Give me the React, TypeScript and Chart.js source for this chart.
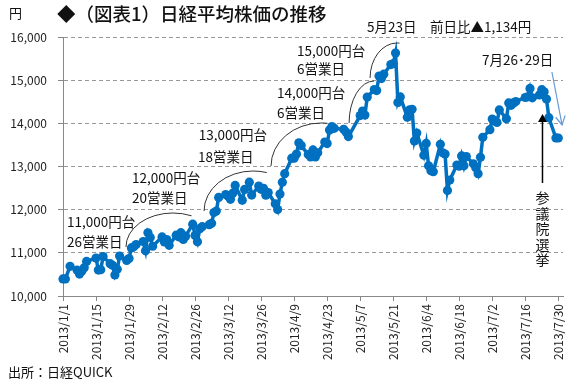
import { useEffect, useRef } from "react";
import { Chart, registerables } from "chart.js";

Chart.register(...registerables);

// ---- data ----
const dates = [
  "1/1", "1/2", "1/4", "1/7", "1/8", "1/9", "1/10", "1/11", "1/15", "1/16", "1/17", "1/18",
  "1/21", "1/22", "1/23", "1/24", "1/25", "1/28", "1/29", "1/30", "1/31",
  "2/1", "2/4", "2/5", "2/6", "2/7", "2/8", "2/12", "2/13", "2/14", "2/15", "2/18", "2/19",
  "2/20", "2/21", "2/22", "2/25", "2/26", "2/27", "2/28",
  "3/1", "3/4", "3/5", "3/6", "3/7", "3/8", "3/11", "3/12", "3/13", "3/14", "3/15", "3/18",
  "3/19", "3/21", "3/22", "3/25", "3/26", "3/27", "3/28", "3/29",
  "4/1", "4/2", "4/3", "4/4", "4/5", "4/8", "4/9", "4/10", "4/11", "4/12", "4/15", "4/16",
  "4/17", "4/18", "4/19", "4/22", "4/23", "4/24", "4/25", "4/26", "4/30",
  "5/1", "5/2", "5/7", "5/8", "5/9", "5/10", "5/13", "5/14", "5/15", "5/16", "5/17", "5/20",
  "5/21", "5/22", "5/23", "5/24", "5/27", "5/28", "5/29", "5/30", "5/31",
  "6/3", "6/4", "6/5", "6/6", "6/7", "6/10", "6/11", "6/12", "6/13", "6/14", "6/17", "6/18",
  "6/19", "6/20", "6/21", "6/24", "6/25", "6/26", "6/27", "6/28",
  "7/1", "7/2", "7/3", "7/4", "7/5", "7/8", "7/9", "7/10", "7/11", "7/12", "7/16", "7/17",
  "7/18", "7/19", "7/22", "7/23", "7/24", "7/25", "7/26", "7/29", "7/30",
];

const closes = [
  10395, 10395, 10688, 10599, 10508, 10579, 10653, 10802, 10879, 10600, 10610, 10913,
  10748, 10710, 10487, 10621, 10927, 10824, 10867, 11114, 11139,
  11191, 11260, 11047, 11464, 11357, 11153, 11369, 11251, 11307, 11174, 11408, 11372,
  11468, 11309, 11386, 11663, 11399, 11254, 11559,
  11606, 11652, 11683, 11932, 11968, 12284, 12349, 12315, 12240, 12381, 12561, 12221,
  12468, 12636, 12339, 12546, 12472, 12494, 12336, 12398,
  12135, 12003, 12362, 12635, 12834, 13193, 13192, 13288, 13549, 13485, 13276, 13221,
  13383, 13220, 13316, 13568, 13530, 13843, 13926, 13884, 13861,
  13799, 13694, 14180, 14286, 14191, 14608, 14782, 14758, 15096, 15037, 15138, 15361,
  15381, 15627, 14484, 14612, 14143, 14312, 14326, 13589, 13775,
  13262, 13534, 13015, 12904, 12878, 13514, 13318, 13289, 12445, 12687, 13033, 13007,
  13245, 13015, 13230, 13063, 12969, 12834, 13214, 13677,
  13853, 14099, 14055, 14019, 14310, 14109, 14473, 14417, 14473, 14506, 14599, 14615,
  14809, 14590, 14658, 14779, 14731, 14563, 14130, 13661, 13660,
];

const xTickLabels = [
  "2013/1/1", "2013/1/15", "2013/1/29", "2013/2/12", "2013/2/26", "2013/3/12", "2013/3/26",
  "2013/4/9", "2013/4/23", "2013/5/7", "2013/5/21", "2013/6/4", "2013/6/18", "2013/7/2",
  "2013/7/16", "2013/7/30",
];

const yMin = 10000;
const yMax = 16000;
const yStep = 1000;
const xStepDays = 14;
const xMaxDays = 212;

const TITLE = "◆（図表1）日経平均株価の推移";
const UNIT = "円";
const SOURCE = "出所：日経QUICK";

// annotation texts (anchored in data space: day index, yen)
const noteTexts = [
  { text: "11,000円台", d: 1.7, v: 11715 },
  { text: "26営業日", d: 1.7, v: 11251 },
  { text: "12,000円台", d: 29.3, v: 12734 },
  { text: "20営業日", d: 29.3, v: 12271 },
  { text: "13,000円台", d: 57.6, v: 13730 },
  { text: "18営業日", d: 57.2, v: 13220 },
  { text: "14,000円台", d: 90.7, v: 14703 },
  { text: "6営業日", d: 90.7, v: 14240 },
  { text: "15,000円台", d: 99.2, v: 15676 },
  { text: "6営業日", d: 99.2, v: 15259 },
  { text: "5月23日　前日比▲1,134円", d: 128.9, v: 16232 },
  { text: "7月26･29日", d: 177.7, v: 15467 },
];
const verticalNote = { text: "参議院選挙", d: 203.3, v: 12271 };

// arcs: start (left end) and apex (top), end angle in units of PI
const arcs = [
  { d0: 26.7, v0: 11136, d1: 46.6, v1: 11923, end: 1.63 },
  { d0: 59.8, v0: 11969, d1: 80.6, v1: 12896, end: 1.59 },
  { d0: 88.2, v0: 13012, d1: 109.5, v1: 14008, end: 1.54 },
  { d0: 121.3, v0: 14008, d1: 131.9, v1: 14981, end: 1.5 },
  { d0: 130.2, v0: 15050, d1: 141.6, v1: 15861, end: 1.53 },
];

const blackArrow = { d: 203.3, vFrom: 12618, vTo: 14216 };
const blueArrow = { d0: 207.3, v0: 15189, d1: 211.6, v1: 13962 };

const FONT = '"Noto Sans CJK JP", "Noto Sans", sans-serif';
const LINE_BLUE = "#0070C0";

const dayOf = (md: string) => {
  const [m, d] = md.split("/").map(Number);
  return (Date.UTC(2013, m - 1, d) - Date.UTC(2013, 0, 1)) / 86400000;
};

const notesPlugin = {
  id: "notes",
  afterDraw(chart: any) {
    const { ctx } = chart;
    const xs = chart.scales.x;
    const ys = chart.scales.y;
    const X = (d: number) => xs.getPixelForValue(d);
    const Y = (v: number) => ys.getPixelForValue(v);
    ctx.save();
    ctx.fillStyle = "#111";
    ctx.textBaseline = "middle";
    ctx.textAlign = "left";

    ctx.font = `500 18.5px ${FONT}`;
    ctx.fillText(TITLE, 57, 14);
    ctx.font = `13px ${FONT}`;
    ctx.fillText(UNIT, 9, 13);
    ctx.fillText(SOURCE, 8, 372);

    ctx.font = `13.5px ${FONT}`;
    for (const n of noteTexts) ctx.fillText(n.text, X(n.d), Y(n.v));

    // vertical text
    ctx.font = `14px ${FONT}`;
    ctx.textAlign = "center";
    const chars = Array.from(verticalNote.text);
    chars.forEach((c, i) => ctx.fillText(c, X(verticalNote.d), Y(verticalNote.v) + i * 15.5));

    // arcs
    ctx.strokeStyle = "#333";
    ctx.lineWidth = 1;
    for (const a of arcs) {
      const sx = X(a.d0), sy = Y(a.v0), ax = X(a.d1), ay = Y(a.v1);
      ctx.beginPath();
      ctx.ellipse(ax, sy, ax - sx, sy - ay, 0, Math.PI, a.end * Math.PI);
      ctx.stroke();
    }

    // black arrow
    {
      const x = X(blackArrow.d);
      const y0 = Y(blackArrow.vFrom);
      const tip = Y(blackArrow.vTo);
      ctx.strokeStyle = "#000";
      ctx.fillStyle = "#000";
      ctx.lineWidth = 1.5;
      ctx.beginPath();
      ctx.moveTo(x, y0);
      ctx.lineTo(x, tip + 7);
      ctx.stroke();
      ctx.beginPath();
      ctx.moveTo(x, tip);
      ctx.lineTo(x - 4.5, tip + 8);
      ctx.lineTo(x + 4.5, tip + 8);
      ctx.closePath();
      ctx.fill();
    }

    // blue arrow
    {
      const x0 = X(blueArrow.d0), y0 = Y(blueArrow.v0);
      const x1 = X(blueArrow.d1), y1 = Y(blueArrow.v1);
      ctx.strokeStyle = "#6a9ad8";
      ctx.lineWidth = 1.2;
      ctx.beginPath();
      ctx.moveTo(x0, y0);
      ctx.lineTo(x1, y1);
      ctx.stroke();
      const ang = Math.atan2(y1 - y0, x1 - x0);
      const L = 10;
      ctx.beginPath();
      ctx.moveTo(x1 - L * Math.cos(ang - 0.5), y1 - L * Math.sin(ang - 0.5));
      ctx.lineTo(x1, y1);
      ctx.lineTo(x1 - L * Math.cos(ang + 0.5), y1 - L * Math.sin(ang + 0.5));
      ctx.stroke();
    }
    ctx.restore();
  },
};

export default function App() {
  const ref = useRef<HTMLCanvasElement | null>(null);

  useEffect(() => {
    if (!ref.current) return;
    const points = dates.map((d, i) => ({ x: dayOf(d), y: closes[i] }));
    const chart = new Chart(ref.current, {
      type: "line",
      data: {
        datasets: [
          {
            data: points,
            borderColor: LINE_BLUE,
            backgroundColor: LINE_BLUE,
            borderWidth: 3.5,
            pointRadius: 4.6,
            pointBorderWidth: 0,
            pointBackgroundColor: LINE_BLUE,
            tension: 0,
            clip: false as any,
          },
        ],
      },
      options: {
        animation: false,
        responsive: false,
        devicePixelRatio: 1,
        layout: { padding: { left: 0, top: 37, right: 17, bottom: 0 } },
        plugins: {
          legend: { display: false },
          tooltip: { enabled: false },
        },
        scales: {
          x: {
            type: "linear",
            min: 0,
            max: xMaxDays,
            afterFit: (s: any) => {
              s.height = 86;
            },
            afterBuildTicks: (s: any) => {
              s.ticks = xTickLabels.map((_, i) => ({ value: i * xStepDays }));
            },
            ticks: {
              autoSkip: false,
              maxRotation: 90,
              minRotation: 90,
              padding: 3,
              color: "#222",
              font: { family: FONT, size: 12 },
              callback: (_v: any, i: number) => xTickLabels[i],
            },
            grid: {
              drawOnChartArea: false,
              drawTicks: true,
              tickLength: 5,
              tickColor: "#888",
            },
            border: { color: "#888", width: 1 },
          },
          y: {
            min: yMin,
            max: yMax,
            afterFit: (s: any) => {
              s.width = 63;
            },
            ticks: {
              stepSize: yStep,
              padding: 11,
              color: "#222",
              font: { family: FONT, size: 12 },
              callback: (v: any) => Number(v).toLocaleString("en-US"),
            },
            grid: {
              color: "#999",
              lineWidth: 1,
              drawTicks: true,
              tickLength: 5,
              tickColor: "#888",
              tickBorderDash: [],
            },
            border: { color: "#888", width: 1, dash: [4, 3] },
          },
        },
      },
      plugins: [notesPlugin],
    });
    return () => chart.destroy();
  }, []);

  return (
    <div style={{ position: "absolute", left: 0, top: 0, width: 580, height: 382, background: "#fff" }}>
      <canvas ref={ref} width={580} height={382} style={{ display: "block" }} />
    </div>
  );
}
